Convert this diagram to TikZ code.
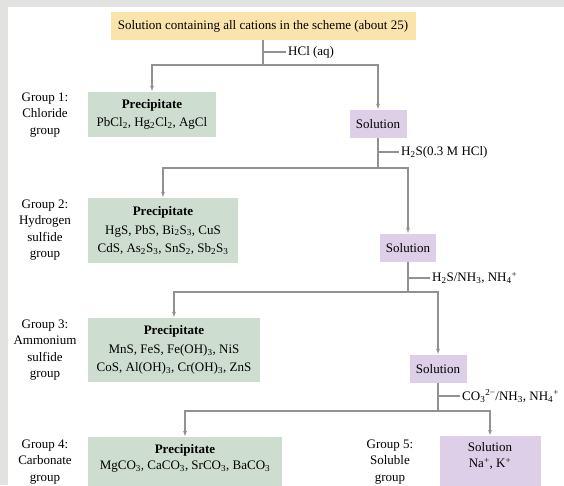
\documentclass[tikz,border=0pt]{standalone}
\usepackage{fontspec}
\setmainfont{Liberation Serif}
\usetikzlibrary{arrows.meta}
\definecolor{SchemeGold}{RGB}{251,228,172}
\definecolor{SchemeGreen}{RGB}{205,221,208}
\definecolor{SchemeLilac}{RGB}{221,207,231}
\definecolor{SchemeLine}{RGB}{145,145,145}
\definecolor{SchemeFrame}{RGB}{226,226,224}

\begin{document}
\begin{tikzpicture}[x=1pt,y=-1pt,font=\fontsize{13}{16.5}\selectfont,
  link/.style={SchemeLine,line width=1.2pt},
  flow/.style={link,-{Latex[length=6pt,width=4pt]}},
  prec/.style={fill=SchemeGreen,align=center,inner sep=0pt,font=\fontsize{13}{18.5}\selectfont},
  sol/.style={fill=SchemeLilac,align=center,inner sep=0pt,minimum height=28pt},
  group/.style={align=center},
  reagent/.style={anchor=west,inner sep=2pt}]
\useasboundingbox (0,0) rectangle (564,485);
\fill[SchemeFrame] (0,0) rectangle (564,485);
\fill[white] (8,7) rectangle (564,485);
% boxes
\node[fill=SchemeGold,minimum width=305pt,minimum height=28pt] (all) at (263,26) {Solution containing all cations in the scheme (about 25)};
\node[prec,minimum width=128pt,minimum height=45pt] (prec1) at (152,114.5) {\textbf{Precipitate}\\PbCl\textsubscript{2}, Hg\textsubscript{2}Cl\textsubscript{2}, AgCl};
\node[sol,minimum width=57pt] (sol1) at (378,124) {Solution};
\node[prec,minimum width=150pt,minimum height=65pt] (prec2) at (163,230.5) {\textbf{Precipitate}\\HgS, PbS, Bi\textsubscript{2}S\textsubscript{3}, CuS\\CdS, As\textsubscript{2}S\textsubscript{3}, SnS\textsubscript{2}, Sb\textsubscript{2}S\textsubscript{3}};
\node[sol,minimum width=56pt] (sol2) at (408,248) {Solution};
\node[prec,minimum width=172pt,minimum height=64pt] (prec3) at (174,350) {\textbf{Precipitate}\\MnS, FeS, Fe(OH)\textsubscript{3}, NiS\\CoS, Al(OH)\textsubscript{3}, Cr(OH)\textsubscript{3}, ZnS};
\node[sol,minimum width=57pt] (sol3) at (438,369) {Solution};
\node[prec,anchor=north,minimum width=194pt,inner ysep=7pt,text depth=30pt,font=\fontsize{13}{16}\selectfont] (prec4) at (185,437) {\textbf{Precipitate}\\MgCO\textsubscript{3}, CaCO\textsubscript{3}, SrCO\textsubscript{3}, BaCO\textsubscript{3}};
\node[sol,anchor=north,minimum width=101pt,inner ysep=6pt,text depth=30pt] (sol5) at (490,436) {Solution\\Na\textsuperscript{+}, K\textsuperscript{+}};
% group names
\node[group] (g1) at (45,115) {Group 1:\\Chloride\\group};
\node[group] (g2) at (45,230) {Group 2:\\Hydrogen\\sulfide\\group};
\node[group] (g3) at (45,350) {Group 3:\\Ammonium\\sulfide\\group};
\node[group] (g4) at (45,462) {Group 4:\\Carbonate\\group};
\node[group] (g5) at (390,462) {Group 5:\\Soluble\\group};
% reagents
\node[reagent] (rg0) at (286,52) {HCl (aq)};
\node[reagent] (rg1) at (399,152) {H\textsubscript{2}S(0.3 M HCl)};
\node[reagent] (rg2) at (430,278) {H\textsubscript{2}S/NH\textsubscript{3}, NH\textsubscript{4}\textsuperscript{+}};
\node[reagent] (rg3) at (460,396) {CO\textsubscript{3}\textsuperscript{2−}/NH\textsubscript{3}, NH\textsubscript{4}\textsuperscript{+}};
% forks
\coordinate (fork0) at (263,65);
\coordinate (fork1) at (378,168);
\coordinate (fork2) at (408,292);
\coordinate (fork3) at (438,411);
\draw[link] (all) -- (fork0);
\draw[link] (rg0.west) -- (rg0.west -| fork0);
\draw[flow] (fork0) -| (prec1);
\draw[flow] (fork0) -| (sol1);
\draw[link] (sol1) -- (fork1);
\draw[link] (rg1.west) -- (rg1.west -| fork1);
\draw[flow] (fork1) -| (prec2);
\draw[flow] (fork1) -| (sol2);
\draw[link] (sol2) -- (fork2);
\draw[link] (rg2.west) -- (rg2.west -| fork2);
\draw[flow] (fork2) -| (prec3);
\draw[flow] (fork2) -| (sol3);
\draw[link] (sol3) -- (fork3);
\draw[link] (rg3.west) -- (rg3.west -| fork3);
\draw[flow] (fork3) -| (prec4);
\draw[flow] (fork3) -| (sol5);
\end{tikzpicture}
\end{document}
